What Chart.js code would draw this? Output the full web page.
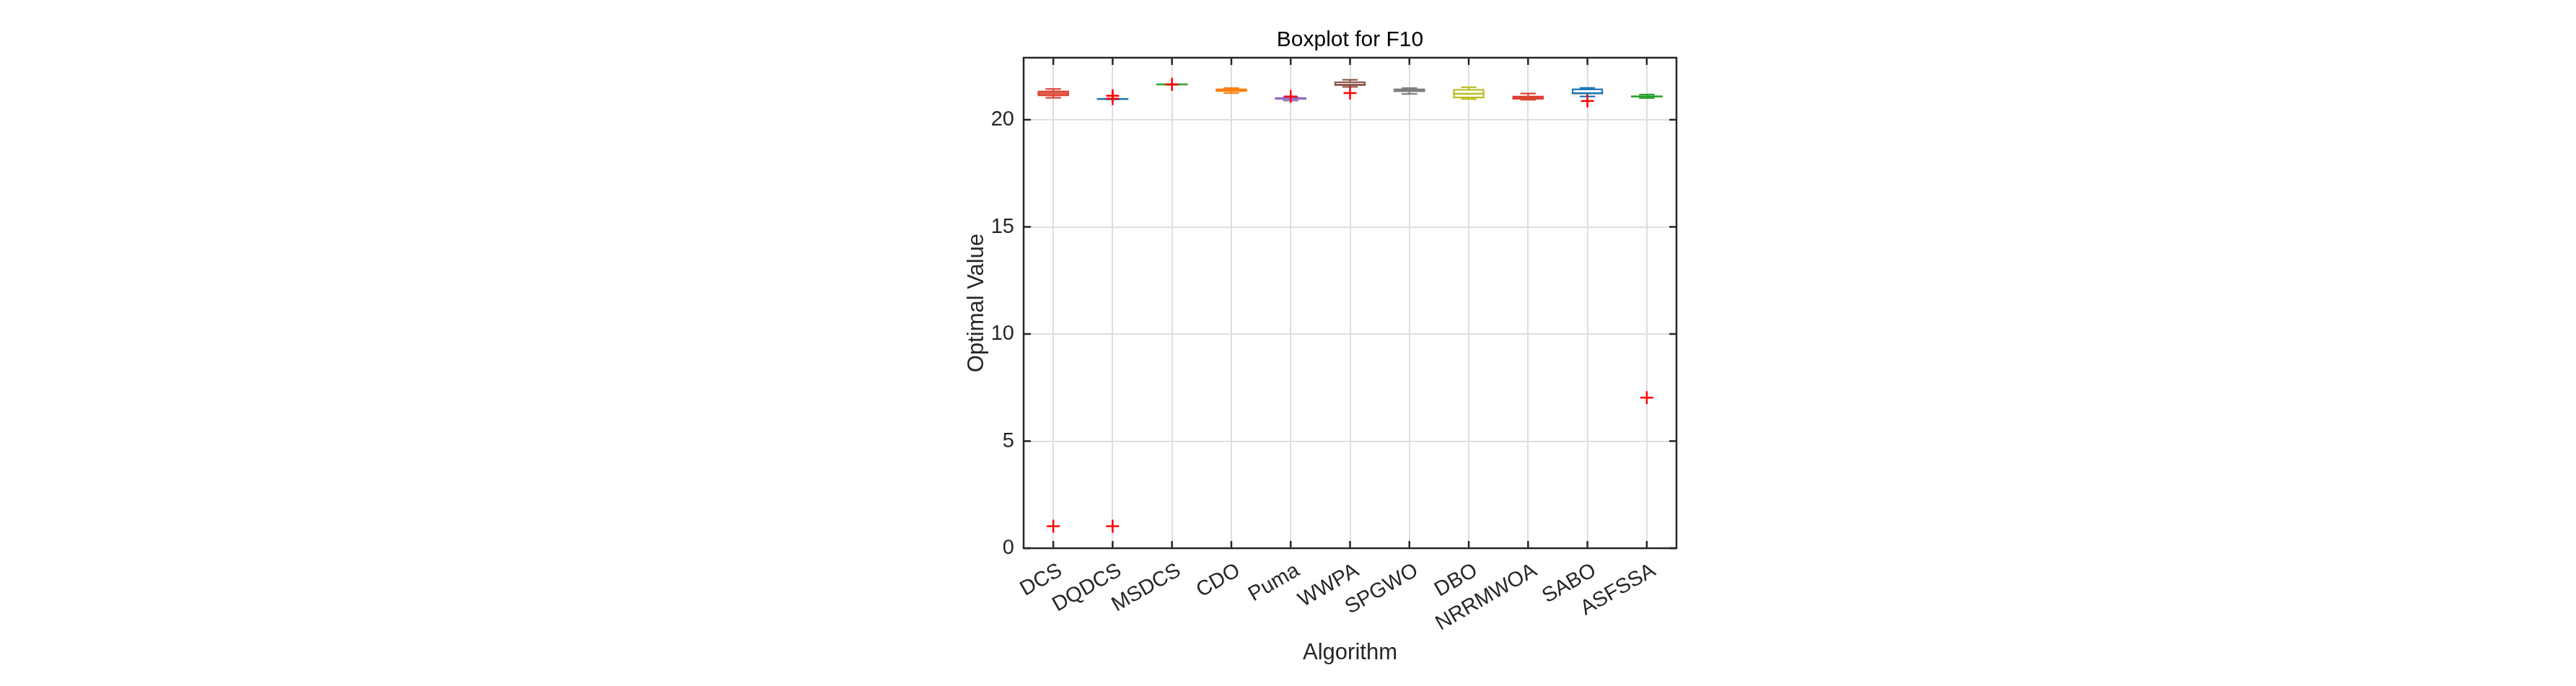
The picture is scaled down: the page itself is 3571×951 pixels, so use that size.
<!DOCTYPE html>
<html>
<head>
<meta charset="utf-8">
<title>Boxplot for F10</title>
<script src="https://cdn.jsdelivr.net/npm/chart.js@4.4.1/dist/chart.umd.min.js"></script>
<style>
  html, body { margin:0; padding:0; background:#fff; }
  #wrap { width:3571px; height:951px; position:relative; }
</style>
</head>
<body>
<div id="wrap"><canvas id="boxChart"></canvas></div>
<script>
// ===============================
// DATA
// ===============================
let algorithms  = ["DCS","DQDCS","MSDCS","CDO","Puma","WWPA","SPGWO","DBO","NRRMWOA","SABO","ASFSSA"];

let whiskerLow  = [21.03, 20.97, 21.65, 21.25, 20.90, 21.54, 21.21, 20.97, 20.94, 21.09, 21.02];
let q1          = [21.10, 20.97, 21.65, 21.30, 20.94, 21.59, 21.29, 21.00, 20.94, 21.20, 21.05];
let median      = [21.23, 20.97, 21.65, 21.39, 21.00, 21.64, 21.38, 21.22, 21.02, 21.24, 21.09];
let q3          = [21.37, 20.97, 21.65, 21.47, 21.06, 21.80, 21.47, 21.44, 21.13, 21.47, 21.13];
let whiskerHigh = [21.44, 20.97, 21.65, 21.48, 21.06, 21.87, 21.48, 21.52, 21.23, 21.49, 21.18];

// outliers (red +)
let outlierAlgo  = ["DCS","DQDCS","DQDCS","DQDCS","MSDCS","Puma","WWPA","SABO","ASFSSA"];
let outlierValue = [1.03, 1.03, 21.12, 20.99, 21.65, 21.09, 21.25, 20.88, 7.03];

let yTicks = [0, 5, 10, 15, 20];

// colours per box
let boxColors = ["#DC4332","#1F77B4","#2CA02C","#FF7F0E","#9467BD","#8C564B",
                 "#7F7F7F","#BCBD22","#DC4332","#1F77B4","#2CA02C"];

const FONT = "'Liberation Sans', Arial, Helvetica, sans-serif";
const AXIS = "#262626";


// ===============================
// FRAME + INWARD TICKS (matlab look)
// ===============================
let framePlugin = {
  id: "frame",
  afterDatasetsDraw(chart){
    let ctx = chart.ctx;
    let a = chart.chartArea;
    let xs = chart.scales.x;
    let ys = chart.scales.y;
    let len = 10;

    ctx.save();
    ctx.strokeStyle = AXIS;
    ctx.lineWidth = 2.5;
    ctx.beginPath();
    xs.ticks.forEach((t, i) => {
      let px = xs.getPixelForTick(i);
      ctx.moveTo(px, a.bottom); ctx.lineTo(px, a.bottom - len);
      ctx.moveTo(px, a.top);    ctx.lineTo(px, a.top + len);
    });
    ys.ticks.forEach((t, i) => {
      let py = ys.getPixelForTick(i);
      ctx.moveTo(a.left, py);  ctx.lineTo(a.left + len, py);
      ctx.moveTo(a.right, py); ctx.lineTo(a.right - len, py);
    });
    ctx.stroke();
    ctx.strokeRect(a.left, a.top, a.right - a.left, a.bottom - a.top);
    ctx.restore();
  }
};


// ===============================
// DATASETS
// ===============================
let datasets = [
  // whisker stems
  {
    type: "bar",
    data: algorithms.map((a, i) => [whiskerLow[i], whiskerHigh[i]]),
    backgroundColor: boxColors,
    borderWidth: 0,
    barThickness: 1.5,
    grouped: false,
    order: 6
  },
  // boxes q1..q3
  {
    type: "bar",
    data: algorithms.map((a, i) => [q1[i], q3[i]]),
    backgroundColor: "#ffffff",
    borderColor: boxColors,
    borderWidth: 2.5,
    borderSkipped: false,
    barPercentage: 0.53,
    categoryPercentage: 1,
    grouped: false,
    order: 5
  },
  // upper caps
  {
    type: "line",
    data: whiskerHigh,
    showLine: false,
    pointStyle: "line",
    pointRadius: 10.7,
    pointBorderWidth: 2.2,
    pointBorderColor: boxColors,
    order: 4
  },
  // lower caps
  {
    type: "line",
    data: whiskerLow,
    showLine: false,
    pointStyle: "line",
    pointRadius: 10.7,
    pointBorderWidth: 2.2,
    pointBorderColor: boxColors,
    order: 3
  },
  // medians
  {
    type: "line",
    data: median,
    showLine: false,
    pointStyle: "line",
    pointRadius: 21.8,
    pointBorderWidth: 2.5,
    pointBorderColor: boxColors,
    order: 2
  },
  // outliers
  {
    type: "line",
    data: outlierAlgo.map((a, i) => ({ x: a, y: outlierValue[i] })),
    showLine: false,
    pointStyle: "cross",
    pointRadius: 9,
    pointBorderWidth: 2.5,
    pointBorderColor: "#ff0000",
    order: 1
  }
];


// ===============================
// CHART
// ===============================
let ctx = document.getElementById("boxChart").getContext("2d");

new Chart(ctx, {
  type: "bar",
  data: { labels: algorithms, datasets: datasets },
  options: {
    responsive: true,
    maintainAspectRatio: false,
    animation: false,
    devicePixelRatio: 1,
    events: [],
    layout: { padding: { left: 1300, right: 1247, top: 0, bottom: 0 } },
    plugins: {
      legend: { display: false },
      tooltip: { enabled: false },
      title: {
        display: true,
        fullSize: false,
        text: "Boxplot for F10",
        color: "#000",
        font: { family: FONT, size: 30, weight: "normal" },
        padding: { top: 38, bottom: 6 }
      }
    },
    scales: {
      x: {
        type: "category",
        offset: true,
        grid: { offset: false, color: "#dedede", lineWidth: 2, drawTicks: false },
        border: { display: false },
        ticks: {
          color: AXIS,
          font: { family: FONT, size: 29 },
          maxRotation: 30,
          minRotation: 30,
          autoSkip: false,
          padding: 14,
          labelOffset: 10
        },
        title: {
          display: true,
          text: "Algorithm",
          color: AXIS,
          font: { family: FONT, size: 31 },
          padding: { top: 0, bottom: 27 }
        },
        afterFit(s){ s.height = 191; }
      },
      y: {
        min: 0,
        max: 22.9,
        grid: { color: "#dedede", lineWidth: 2, drawTicks: false },
        border: { display: false },
        ticks: { color: AXIS, font: { family: FONT, size: 29 }, padding: 13 },
        afterBuildTicks(s){ s.ticks = yTicks.map(v => ({ value: v })); },
        title: {
          display: true,
          text: "Optimal Value",
          color: AXIS,
          font: { family: FONT, size: 31 },
          padding: { top: 36, bottom: 0 }
        },
        afterFit(s){ s.width = 119; }
      }
    }
  },
  plugins: [framePlugin]
});
</script>
</body>
</html>
